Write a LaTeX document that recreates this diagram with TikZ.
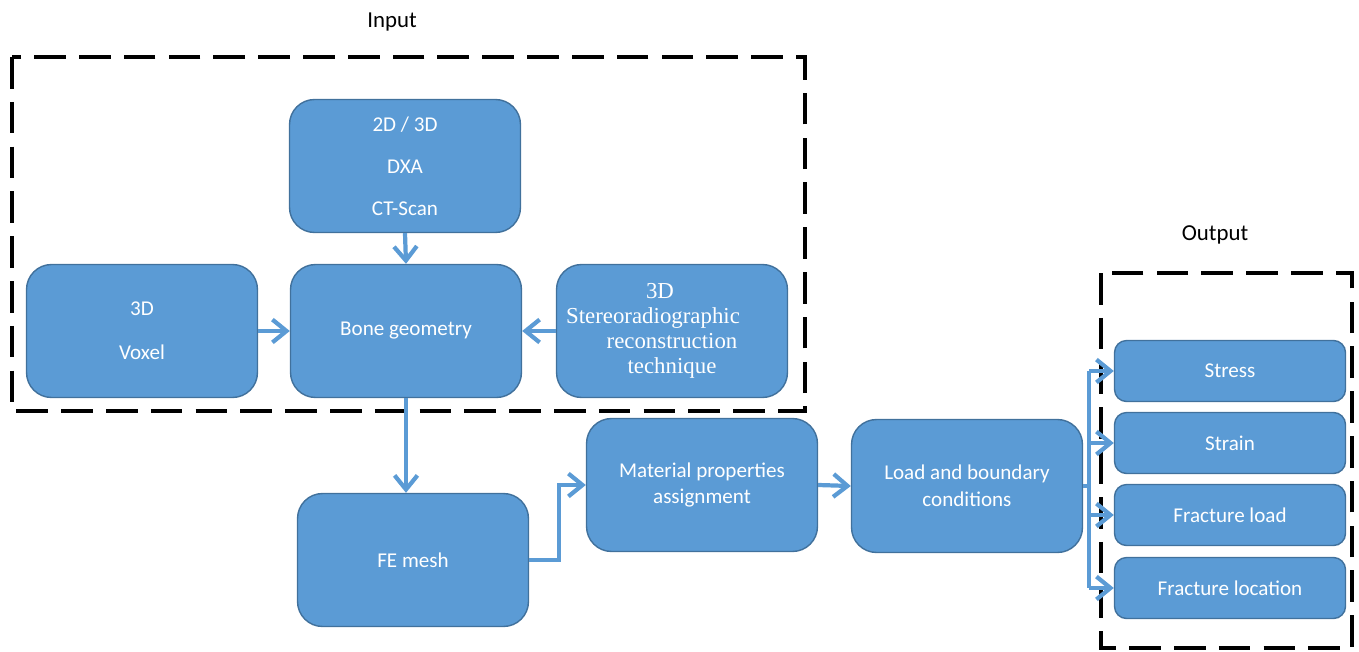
\documentclass[tikz,border=0pt]{standalone}
\usepackage{fontspec}
\setmainfont{Carlito}
\newfontfamily\timesfont{Liberation Serif}
\usetikzlibrary{arrows.meta,positioning}
\definecolor{boxblue}{RGB}{91,155,213}
\definecolor{boxedge}{RGB}{65,113,156}
\definecolor{linkblue}{RGB}{91,155,213}

\tikzset{
    blk/.style={draw=boxedge, thick, fill=boxblue, rounded corners=0.5cm, text=white, align=center,
                minimum width=4.62cm, minimum height=2.66cm, font=\fontsize{12}{15.3}\selectfont},
    outblk/.style={blk, rounded corners=0.24cm, minimum height=1.22cm},
    frame/.style={draw=black, line width=2.3pt, dash pattern=on 18pt off 7.5pt},
    link/.style={draw=linkblue, line width=2.4pt},
    conn/.style={link, -{Straight Barb[length=8pt, width=13pt]}},
    lbl/.style={font=\fontsize{13}{15}\selectfont}
}

\begin{document}
\begin{tikzpicture}[x=0.02cm, y=-0.02cm]
    \useasboundingbox (0,0) rectangle (1359,652);

    % input side
    \node[blk] (scan) at (405,166) {2D / 3D\\[8.5pt]DXA\\[8.5pt]CT-Scan};
    \node[blk] (bone) at (406,331) {Bone geometry};
    \node[blk] (voxel) at (142,331) {3D\\[9.5pt]Voxel};
    \node[blk, font=\timesfont\fontsize{13}{14.2}\selectfont] (stereo) at (672,331)
        {3D\rule{0.48cm}{0pt}\\Stereoradiographic\rule{0.76cm}{0pt}\\reconstruction\\technique};
    \draw[frame] (12,57) rectangle (805,411);
    \node[lbl] (inlbl) at (392,22) {Input};

    % processing chain
    \node[blk] (mesh) at (413,560) {FE mesh};
    \node[blk] (mat) at (702,485) {Material properties\\assignment};
    \node[blk] (load) at (967,486) {Load and boundary\\conditions};

    % output side
    \node[outblk] (stress) at (1230,371) {Stress};
    \node[outblk] (strain) at (1230,443) {Strain};
    \node[outblk] (fload) at (1230,515) {Fracture load};
    \node[outblk] (floc) at (1230,588) {Fracture location};
    \draw[frame] (1101,273) rectangle (1352,648);
    \node[lbl] (outlbl) at (1215,235) {Output};

    % connectors
    \draw[conn] (scan.south) -- (bone.north);
    \draw[conn] (voxel.east) -- (bone.west);
    \draw[conn] (stereo.west) -- (bone.east);
    \draw[conn] (bone.south) -- (bone.south |- mesh.north);
    \draw[conn] (mesh.east) -- ++(30,0) |- (mat.west);
    \draw[conn] (mat.east) -- (load.west);
    \coordinate (split) at ([xshift=0.12cm]load.east);
    \draw[link] (load.east) -- (split);
    \draw[link] (split |- stress.west) -- (split |- floc.west);
    \foreach \o in {stress,strain,fload,floc}
        \draw[conn] (split |- \o.west) -- (\o.west);
\end{tikzpicture}
\end{document}
